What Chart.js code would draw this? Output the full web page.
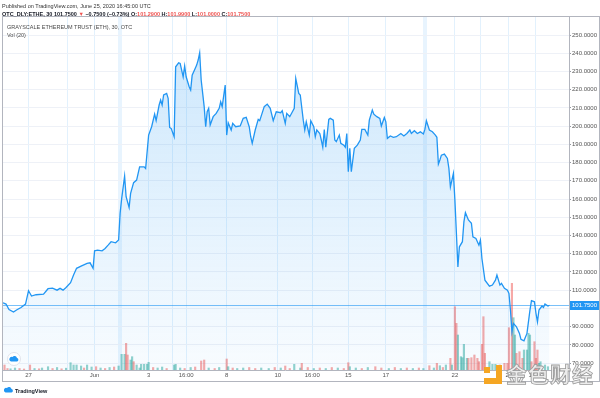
<!DOCTYPE html>
<html><head><meta charset="utf-8">
<script src="https://cdn.jsdelivr.net/npm/chart.js@4.4.1/dist/chart.umd.min.js"></script>
<style>
html,body{margin:0;padding:0;background:#fff;}
#wrap{position:relative;width:600px;height:398px;overflow:hidden;font-family:"Liberation Sans","DejaVu Sans",sans-serif;}
canvas{position:absolute;left:0;top:0;}
.t{position:absolute;white-space:nowrap;font-size:11px;line-height:14px;transform:scale(0.5);transform-origin:0 0;}
.r{color:#ef5350;}
#wm{position:absolute;left:506px;top:361px;font-family:"Noto Sans CJK SC",sans-serif;font-size:21px;font-weight:700;line-height:24px;color:#ececec;-webkit-text-stroke:0.8px #9a9a9a;letter-spacing:1px;white-space:nowrap;}
</style></head><body>
<div id="wrap">
<canvas id="c" width="600" height="398"></canvas>
<div class="t" style="left:2px;top:1.5px;color:#333">Published on TradingView.com, June 25, 2020 16:45:00 UTC</div>
<div class="t" style="left:2px;top:9.5px;color:#131722;font-weight:700">OTC_DLY:ETHE, 30 101.7500 <span class="r">▼</span> −0.7500 (−0.73%) O:<span class="r">101.2900</span> H:<span class="r">101.9900</span> L:<span class="r">101.0000</span> C:<span class="r">101.7500</span></div>
<div class="t" style="left:7px;top:22.5px;color:#4a4a4a">GRAYSCALE ETHEREUM TRUST (ETH), 30, OTC</div>
<div class="t" style="left:7px;top:31px;color:#4a4a4a">Vol (20)</div>
<div style="position:absolute;left:7px;top:352px;width:12px;height:12px;border-radius:50%;background:#fff;border:1px solid #e0e3eb;"></div>
<svg style="position:absolute;left:9px;top:355px" width="10" height="7" viewBox="0 0 10 7"><path d="M2 6.5 H8 A1.8 1.8 0 0 0 8 3 A2.5 2.5 0 0 0 3.5 2 A2 2 0 0 0 2 6.5 Z" fill="#2196f3"/></svg>
<svg style="position:absolute;left:3px;top:386px" width="11" height="7" viewBox="0 0 10 7"><path d="M2 6.5 H8 A1.8 1.8 0 0 0 8 3 A2.5 2.5 0 0 0 3.5 2 A2 2 0 0 0 2 6.5 Z" fill="#2196f3"/></svg>
<div class="t" style="left:15px;top:386.5px;color:#131722;font-weight:700">TradingView</div>
<div style="position:absolute;left:484px;top:367px;width:6px;height:6px;background:#f5a623"></div>
<div style="position:absolute;left:496px;top:365px;width:6px;height:19px;background:#f5a623"></div>
<div style="position:absolute;left:484px;top:378px;width:18px;height:6px;background:#f5a623"></div>
<div id="wm">金色财经</div>
</div>
<script>
// ---- data (30-minute bars, index = bar number) ----
const barIndex = [0,2,4,7,9,12,15,17,19,22,27,30,33,36,38,40,42,45,47,49,52,56,58,60,61,63,66,68,70,72,75,77,78,79,81,82,84,85,87,89,91,94,95,97,99,101,102,104,105,106,107,109,110,111,112,114,115,117,118,120,121,122,124,125,126,128,129,130,131,132,134,135,136,137,138,140,142,144,145,146,148,149,150,152,153,155,158,160,162,164,165,166,168,170,171,174,176,178,180,182,185,186,188,189,191,194,195,197,198,200,201,202,204,205,207,208,209,211,212,213,214,215,217,218,220,221,222,224,225,227,228,229,230,231,232,234,236,238,239,241,243,244,246,247,249,251,252,254,255,256,258,260,262,265,267,269,271,272,274,276,278,280,281,282,284,286,288,289,290,291,292,294,296,297,298,300,301,302,303,304,306,307,308,310,312,313,315,317,318,319,321,324,326,328,329,331,332,334,336,337,338,339,340,342,344,345,347,349,351,352,354,355,356,357,359,360,361,363,364];
const closePrice = [103.1,102.4,99.4,98.0,99.1,100.5,102.4,109.7,106.8,107.5,107.8,110.8,111.1,110.0,111.0,110.0,111.5,114.1,118.3,122.0,123.2,124.7,125.0,122.0,131.6,132.0,131.6,132.9,134.7,136.6,136.0,137.5,152.1,160.0,172.6,161.3,155.4,163.1,169.0,170.4,177.7,177.7,176.8,195.1,199.7,206.6,203.0,211.6,214.3,211.6,217.1,218.0,215.3,199.3,198.8,194.2,232.6,234.8,234.4,227.1,233.0,227.1,221.6,219.8,228.0,231.7,233.5,236.3,240.3,225.3,210.7,199.7,207.9,209.8,200.6,205.2,207.0,209.8,213.4,210.7,222.6,195.1,201.9,197.9,201.5,199.7,200.1,204.3,204.8,199.7,194.2,190.6,197.9,203.7,203.0,210.7,212.1,209.8,203.0,207.9,207.4,208.5,201.5,207.0,205.2,209.8,226.2,218.0,217.1,203.3,197.9,202.4,195.1,203.0,199.7,194.2,197.9,196.0,192.4,188.4,198.2,188.4,203.7,204.3,203.3,192.4,191.5,195.1,190.6,189.6,188.4,196.0,175.0,187.8,175.0,187.8,189.6,192.4,198.2,198.2,195.1,203.3,208.8,206.6,205.2,204.3,200.1,204.8,202.4,193.3,194.6,193.9,194.2,196.0,194.6,196.0,197.9,196.0,197.5,196.0,196.9,195.7,198.2,203.0,197.9,196.9,195.1,193.9,179.2,181.4,184.1,184.7,182.3,176.8,166.7,174.1,159.4,141.2,122.8,133.8,136.6,147.5,152.5,148.5,146.7,139.3,138.4,134.7,137.5,127.4,115.5,112.2,112.8,115.5,118.3,112.8,113.7,111.0,110.0,108.2,99.1,87.2,91.8,89.9,86.3,83.0,82.2,86.3,99.1,104.2,103.6,97.3,92.6,99.1,101.3,100.5,102.4,101.3,101.75];
const volIndex = [1,3,5,8,11,14,18,21,24,26,30,33,36,39,42,45,47,49,52,54,56,59,62,65,68,71,74,77,79,81,82,83,85,86,87,89,91,92,94,96,97,100,103,106,109,114,115,118,121,125,128,132,134,137,141,144,149,150,153,156,160,164,168,172,177,181,185,188,191,194,198,199,203,207,211,215,219,223,227,230,231,235,239,243,248,252,257,261,265,269,273,277,280,284,287,289,291,293,295,298,299,301,302,303,305,306,307,309,310,312,314,316,317,319,320,321,324,326,328,331,334,336,337,339,340,341,342,344,346,347,349,350,351,352,354,355,356,357,358,361,363];
const volAmount = [500,150,120,200,150,100,500,150,120,200,330,150,250,120,180,730,500,500,400,200,500,300,330,200,150,250,300,400,1570,1570,2670,1500,1000,1330,830,500,200,570,570,570,770,250,200,300,150,500,570,200,150,250,300,900,1000,200,150,250,1100,330,200,150,200,250,150,200,150,250,200,400,150,570,200,670,250,150,200,150,250,200,150,730,330,200,150,250,330,200,150,250,150,200,150,200,150,430,200,670,430,250,500,1170,500,6330,4670,3500,1330,1230,2570,1170,1170,1230,1500,1170,830,2570,5330,1670,830,570,570,500,670,670,4230,8670,5230,3500,1670,1830,1170,2000,2000,3670,3500,830,2830,1170,2000,670,830,500,330];
const volUp = [0,0,1,1,0,0,0,1,0,1,1,0,1,0,1,1,1,1,1,0,1,1,0,1,0,1,0,1,1,1,0,0,1,1,0,1,1,1,1,1,1,0,1,1,0,1,1,1,0,1,0,0,0,1,0,1,0,1,0,1,1,0,0,1,1,0,1,0,0,1,1,0,0,1,0,1,0,1,0,0,1,1,0,1,0,0,1,0,1,0,1,0,1,0,1,0,1,0,1,0,1,0,0,1,1,1,1,1,0,0,0,0,0,0,0,0,1,1,1,0,0,0,0,0,1,1,0,0,0,1,1,1,1,0,0,0,0,1,1,1,1];
const priceTicks = [70,80,90,100,110,120,130,140,150,160,170,180,190,200,210,220,230,240,250];
const xTickIndex = [17,43,61,78,97,113,122,149,183,206,230,255,281,301,318,337,355];
const xTickText  = ['27','','Jun','','3','','16:00','8','10','16:00','15','17','','22','','24','16:00'];
const sessionBands = [78,281];
const lastPrice = 101.75;

const decor = {
  id:'decor',
  beforeDatasetsDraw(chart){
    const {ctx, chartArea:a, scales:{y}} = chart;
    const py = Math.round(y.getPixelForValue(lastPrice)) + 0.5;
    ctx.save();
    ctx.strokeStyle = 'rgba(33,150,243,0.6)';
    ctx.lineWidth = 1;
    ctx.beginPath(); ctx.moveTo(a.left, py); ctx.lineTo(a.right, py); ctx.stroke();
    ctx.restore();
  },
  afterDraw(chart){
    const {ctx, chartArea:a, scales:{y}} = chart;
    ctx.save();
    ctx.strokeStyle = '#b2b5be';
    ctx.lineWidth = 1;
    ctx.beginPath();
    ctx.moveTo(2.5, a.top - 0.5); ctx.lineTo(2.5, 381.5);
    ctx.moveTo(2, a.top - 0.5); ctx.lineTo(600, a.top - 0.5);
    ctx.moveTo(599.5, a.top); ctx.lineTo(599.5, 381.5);
    ctx.moveTo(2, 381.5); ctx.lineTo(600, 381.5);
    ctx.moveTo(a.right + 0.5, a.top); ctx.lineTo(a.right + 0.5, 381.5);
    ctx.moveTo(2, a.bottom + 0.5); ctx.lineTo(a.right, a.bottom + 0.5);
    ctx.stroke();
    const py = y.getPixelForValue(lastPrice);
    ctx.fillStyle = '#2196f3';
    ctx.fillRect(a.right + 1, Math.round(py) - 4, 600 - a.right - 2, 9);
    ctx.fillStyle = '#fff';
    ctx.font = '6px "Liberation Sans", sans-serif';
    ctx.textBaseline = 'middle';
    ctx.textAlign = 'left';
    ctx.fillText(lastPrice.toFixed(4), a.right + 3, Math.round(py) + 0.5);
    ctx.restore();
  }
};

new Chart(document.getElementById('c'), {
  data: {
    datasets: [
      {
        type:'line',
        data: barIndex.map((x,i)=>({x, y: closePrice[i]})),
        yAxisID:'y',
        borderColor:'#2196f3',
        borderWidth:1.3,
        pointRadius:0,
        tension:0,
        fill:'start',
        order:1,
        backgroundColor:(c)=>{
          const a = c.chart.chartArea;
          if(!a) return 'rgba(33,150,243,0.15)';
          const g = c.chart.ctx.createLinearGradient(0,a.top,0,a.bottom);
          g.addColorStop(0,'rgba(33,150,243,0.24)');
          g.addColorStop(1,'rgba(33,150,243,0.03)');
          return g;
        }
      },
      {
        type:'bar',
        data: volIndex.map((x,i)=>({x, y: volAmount[i]})),
        yAxisID:'yVol',
        backgroundColor: volUp.map(u=> u ? 'rgba(38,166,154,0.5)' : 'rgba(239,83,80,0.5)'),
        barThickness:1.5,
        order:2
      }
    ]
  },
  options: {
    responsive:false,
    animation:false,
    devicePixelRatio:1,
    layout:{padding:{left:3, top:17, right:0, bottom:17}},
    plugins:{legend:{display:false}, tooltip:{enabled:false}},
    scales:{
      x:{
        type:'linear', min:0, max:377, position:'bottom', offset:false,
        afterBuildTicks:(s)=>{ s.ticks = xTickIndex.map(v=>({value:v})); },
        afterFit:(s)=>{ s.height = 11; },
        border:{display:false},
        grid:{
          offset:false,
          drawTicks:false,
          color:(c)=> sessionBands.includes(c.tick && c.tick.value) ? 'rgba(33,150,243,0.10)' : 'rgba(33,150,243,0.13)',
          lineWidth:(c)=> sessionBands.includes(c.tick && c.tick.value) ? 4 : 1
        },
        ticks:{
          autoSkip:false, maxRotation:0, padding:2,
          color:'#555', font:{size:6, family:'"Liberation Sans", sans-serif'},
          callback:(v,i)=> xTickText[i]
        }
      },
      y:{
        type:'linear', position:'right', min:66.2, max:259.9,
        afterBuildTicks:(s)=>{ s.ticks = priceTicks.map(v=>({value:v})); },
        afterFit:(s)=>{ s.width = 31; },
        border:{display:false},
        grid:{color:'#eef1f7', tickLength:2, tickColor:'#9598a1'},
        ticks:{
          padding:1, color:'#555', font:{size:6, family:'"Liberation Sans", sans-serif'},
          callback:(v)=> Number(v).toFixed(4)
        }
      },
      yVol:{ type:'linear', display:false, min:0, max:35300 }
    }
  },
  plugins:[decor]
});
</script>
</body></html>
